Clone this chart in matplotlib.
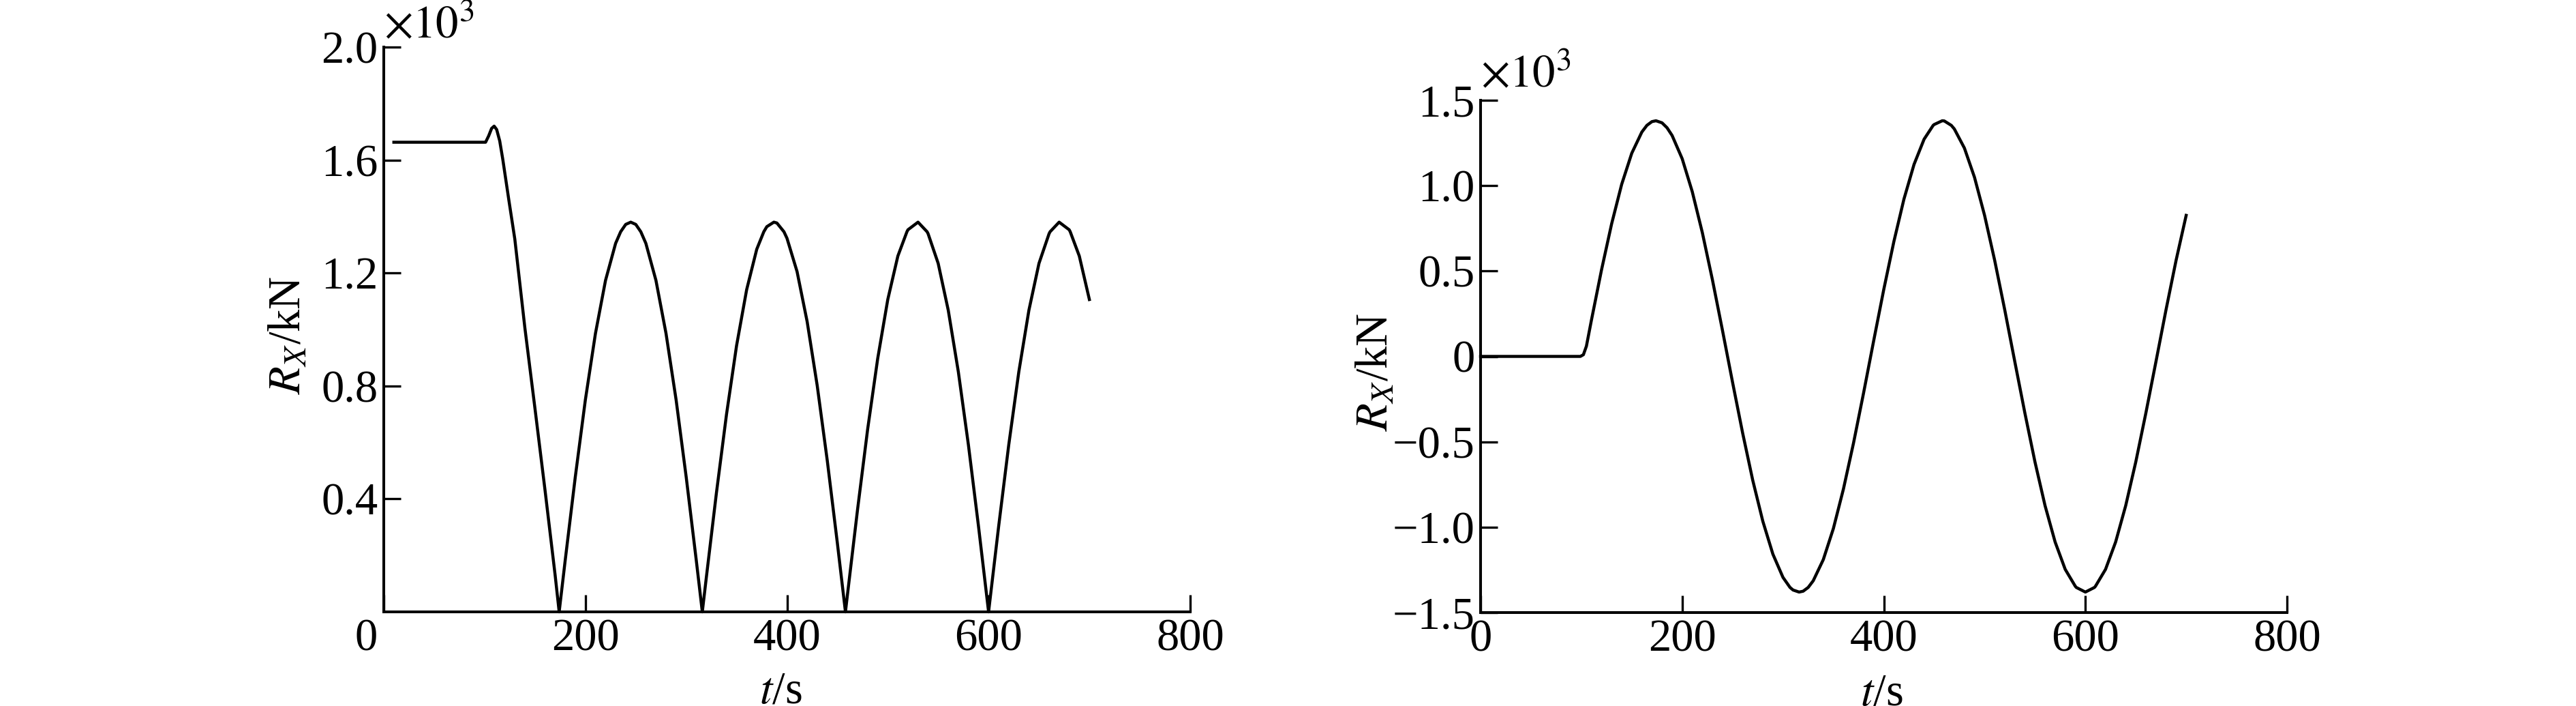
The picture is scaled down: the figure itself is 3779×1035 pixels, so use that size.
import matplotlib
matplotlib.use("Agg")
import matplotlib.pyplot as plt
from matplotlib.transforms import ScaledTranslation

plt.rcParams["font.family"] = ["Liberation Serif", "DejaVu Serif"]
plt.rcParams["mathtext.fontset"] = "stix"

# left panel: |R_X| in 10^3 kN
t_left = [10, 101, 104, 107, 109.5, 112, 115, 118, 124, 130, 140, 150, 160, 170, 174,
          180, 190, 200, 210, 220, 230, 235, 240, 245, 250, 255, 260, 270, 280, 290, 300, 310, 316,
          320, 330, 340, 350, 360, 370, 377, 380, 387, 390, 397, 400, 410, 420, 430, 440, 450, 458,
          460, 470, 480, 490, 500, 510, 519, 520, 530, 539, 540, 550, 560, 570, 580, 590, 600,
          610, 620, 630, 640, 650, 661, 660, 670, 681, 680, 690, 700]
rx_left = [1.663, 1.663, 1.685, 1.712, 1.720, 1.708, 1.668, 1.604, 1.46, 1.32, 1.005, 0.72, 0.43, 0.13, 0.0,
           0.183, 0.478, 0.751, 0.986, 1.174, 1.305, 1.346, 1.372, 1.380, 1.372, 1.346, 1.305, 1.174, 0.986, 0.751, 0.478, 0.183, 0.0,
           0.122, 0.421, 0.699, 0.943, 1.141, 1.284, 1.346, 1.364, 1.380, 1.377, 1.346, 1.323, 1.205, 1.028, 0.801, 0.535, 0.243, 0.0,
           0.061, 0.362, 0.646, 0.897, 1.106, 1.260, 1.346, 1.353, 1.380, 1.346, 1.339, 1.234, 1.068, 0.850, 0.591, 0.303, 0.0,
           0.303, 0.591, 0.850, 1.068, 1.234, 1.346, 1.339, 1.380, 1.346, 1.353, 1.260, 1.106]

# right panel: R_X in 10^3 kN
t_right = [0, 99, 102, 105, 110, 120, 130, 140, 150, 160, 165, 170, 174,
           180, 185, 190, 200, 210, 220, 230, 240, 250, 260, 270, 280, 290, 300, 307, 310, 316,
           320, 325, 330, 340, 350, 360, 370, 380, 390, 400, 410, 420, 430, 440, 449, 450, 458,
           460, 467, 470, 480, 490, 500, 510, 520, 530, 540, 550, 560, 570, 580, 590, 591, 600,
           609, 610, 620, 630, 640, 650, 660, 670, 680, 690, 700]
rx_right = [0.0, 0.0, 0.01, 0.06, 0.213, 0.507, 0.776, 1.008, 1.190, 1.314, 1.353, 1.375, 1.380,
            1.368, 1.339, 1.294, 1.158, 0.965, 0.725, 0.449, 0.152, -0.152, -0.449, -0.725, -0.965, -1.158, -1.294, -1.353, -1.368, -1.380,
            -1.375, -1.353, -1.314, -1.190, -1.008, -0.776, -0.507, -0.213, 0.092, 0.392, 0.672, 0.921, 1.124, 1.272, 1.353, 1.358, 1.380,
            1.379, 1.353, 1.332, 1.220, 1.049, 0.826, 0.563, 0.273, -0.031, -0.332, -0.618, -0.874, -1.087, -1.247, -1.346, -1.353, -1.380,
            -1.353, -1.346, -1.247, -1.087, -0.874, -0.618, -0.332, -0.031, 0.273, 0.563, 0.826]

x_ticks = [0, 200, 400, 600, 800]
left_yticks = [0.4, 0.8, 1.2, 1.6, 2.0]
left_ylabels = ["0.4", "0.8", "1.2", "1.6", "2.0"]
right_yticks = [-1.5, -1.0, -0.5, 0, 0.5, 1.0, 1.5]
right_ylabels = ["\u22121.5", "\u22121.0", "\u22120.5", "0", "0.5", "1.0", "1.5"]

FS = 48
W, H = 3779, 1035

fig = plt.figure(figsize=(W / 100, H / 100), dpi=100)
ax1 = fig.add_axes([563 / W, 138 / H, 1183 / W, 828 / H])
ax2 = fig.add_axes([2172 / W, 137 / H, 1183 / W, 751 / H])


def style(ax):
    for s in ("top", "right"):
        ax.spines[s].set_visible(False)
    for s in ("left", "bottom"):
        ax.spines[s].set_linewidth(2.9)
    ax.tick_params(direction="in", length=18, width=2.4, labelsize=FS)
    ax.tick_params(axis="x", pad=7)
    ax.tick_params(axis="y", pad=6)
    ax.set_xlim(0, 800)


style(ax1)
# sort by time so the extra peak points stay in order
pts = sorted(zip(t_left, rx_left))
ax1.plot([p[0] for p in pts], [p[1] for p in pts], color="black", lw=3.2, clip_on=False)
ax1.set_ylim(0, 2.0)
ax1.set_yticks(left_yticks, left_ylabels)
ax1.set_xticks(x_ticks, [""] + [str(v) for v in x_ticks[1:]])
ax1.text(-0.022, 0, "0", fontsize=FS, ha="center", va="top",
         transform=ax1.transAxes + ScaledTranslation(0, -7 / 72, fig.dpi_scale_trans))
ax1.set_ylabel("$R_X$/kN", fontsize=FS)
ax1.yaxis.set_label_coords(-0.092, 0.49)
ax1.set_xlabel("$t$/s", fontsize=FS)
ax1.xaxis.set_label_coords(0.492, -0.105)
ax1.text(0, 1, r"$\times10^3$", fontsize=FS, ha="left", va="baseline",
         transform=ax1.transAxes + ScaledTranslation(0, 9 / 72, fig.dpi_scale_trans))

style(ax2)
ax2.plot(t_right, rx_right, color="black", lw=3.2, clip_on=False)
ax2.set_ylim(-1.5, 1.5)
ax2.set_yticks(right_yticks, right_ylabels)
ax2.set_xticks(x_ticks, [str(v) for v in x_ticks])
ax2.set_ylabel("$R_X$/kN", fontsize=FS)
ax2.yaxis.set_label_coords(-0.104, 0.47)
ax2.set_xlabel("$t$/s", fontsize=FS)
ax2.xaxis.set_label_coords(0.497, -0.118)
ax2.text(0, 1, r"$\times10^3$", fontsize=FS, ha="left", va="baseline",
         transform=ax2.transAxes + ScaledTranslation(0, 14 / 72, fig.dpi_scale_trans))

fig.savefig("out.png", dpi=100)
